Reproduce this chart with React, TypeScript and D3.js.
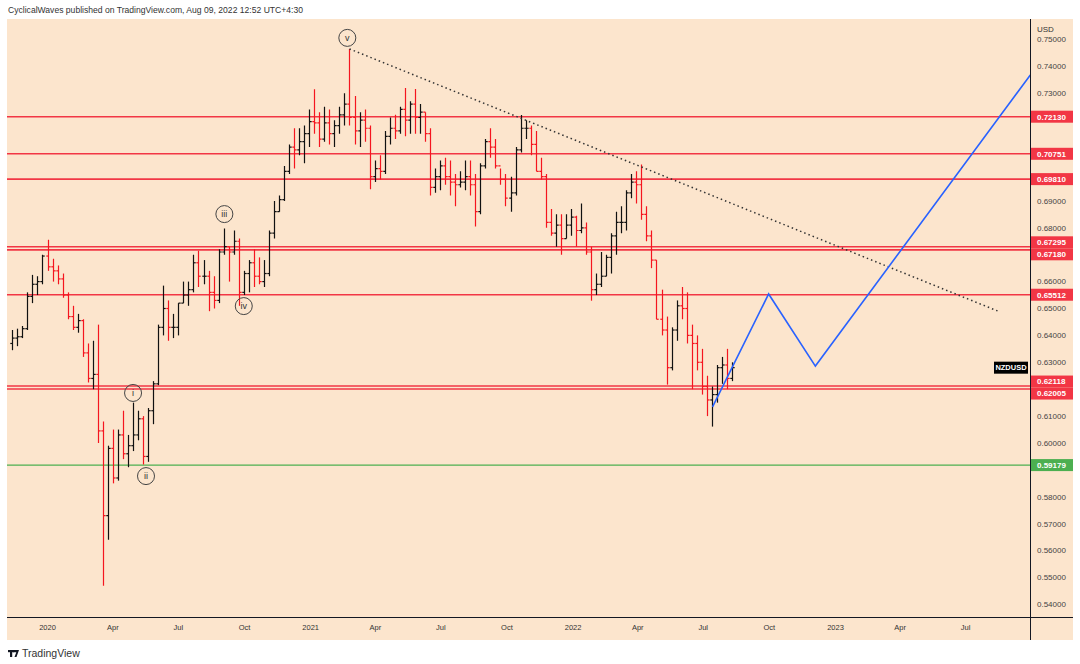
import React from 'react';
import * as d3 from 'd3';

// weekly NZDUSD bars, first week starting Mon 11 Nov 2019 (open of week n = close of week n-1)
const firstWeek = Date.UTC(2019, 10, 11);
const firstOpen = 0.6370;

const highs = [
  0.6420, 0.6425, 0.6435, 0.6560, 0.6625, 0.6620, 0.6700, 0.6756, 0.6685, 0.6660,
  0.6630, 0.6560, 0.6510, 0.6480, 0.6460, 0.6370, 0.6380, 0.6440, 0.6080, 0.5990,
  0.6050, 0.6050, 0.6120, 0.6030, 0.6150, 0.6120, 0.6100, 0.6130, 0.6230, 0.6440,
  0.6585, 0.6530, 0.6480, 0.6520, 0.6600, 0.6600, 0.6700, 0.6715, 0.6680, 0.6640,
  0.6620, 0.6720, 0.6797, 0.6730, 0.6790, 0.6760, 0.6640, 0.6680, 0.6720, 0.6690,
  0.6680, 0.6790, 0.6900, 0.6920, 0.7030, 0.7110, 0.7170, 0.7170, 0.7180, 0.7240,
  0.7315, 0.7230, 0.7250, 0.7240, 0.7200, 0.7250, 0.7300, 0.7465, 0.7290, 0.7230,
  0.7240, 0.7180, 0.7050, 0.7070, 0.7160, 0.7210, 0.7220, 0.7250, 0.7320, 0.7270,
  0.7316, 0.7260, 0.7230, 0.7170, 0.7020, 0.7050, 0.7060, 0.7050, 0.7000, 0.7010,
  0.7050, 0.7050, 0.7000, 0.7040, 0.7130, 0.7170, 0.7130, 0.7020, 0.7000, 0.6990,
  0.7100, 0.7219, 0.7200, 0.7180, 0.7160, 0.7060, 0.7000, 0.6870, 0.6850, 0.6850,
  0.6850, 0.6870, 0.6845, 0.6890, 0.6820, 0.6730, 0.6630, 0.6710, 0.6700, 0.6780,
  0.6860, 0.6880, 0.6940, 0.7000, 0.7010, 0.7035, 0.6880, 0.6790, 0.6680, 0.6570,
  0.6470, 0.6430, 0.6530, 0.6580, 0.6560, 0.6440, 0.6400, 0.6350, 0.6250, 0.6210,
  0.6290, 0.6320, 0.6350, 0.6300,
];

const lows = [
  0.6345, 0.6360, 0.6390, 0.6420, 0.6520, 0.6550, 0.6590, 0.6640, 0.6600, 0.6590,
  0.6540, 0.6460, 0.6420, 0.6410, 0.6320, 0.6225, 0.6200, 0.6000, 0.5469, 0.5640,
  0.5850, 0.5860, 0.5940, 0.5910, 0.5970, 0.6010, 0.5920, 0.5930, 0.6070, 0.6215,
  0.6400, 0.6380, 0.6390, 0.6400, 0.6520, 0.6510, 0.6560, 0.6580, 0.6590, 0.6490,
  0.6500, 0.6520, 0.6700, 0.6600, 0.6700, 0.6510, 0.6550, 0.6560, 0.6580, 0.6590,
  0.6580, 0.6620, 0.6760, 0.6860, 0.6900, 0.7000, 0.7020, 0.7070, 0.7040, 0.7100,
  0.7150, 0.7100, 0.7120, 0.7110, 0.7100, 0.7150, 0.7180, 0.7180, 0.7110, 0.7100,
  0.7120, 0.6943, 0.6970, 0.6980, 0.7000, 0.7110, 0.7130, 0.7150, 0.7140, 0.7150,
  0.7150, 0.7150, 0.7120, 0.6920, 0.6930, 0.6940, 0.6960, 0.6920, 0.6880, 0.6950,
  0.6940, 0.6920, 0.6805, 0.6850, 0.7020, 0.7060, 0.7020, 0.6960, 0.6880, 0.6860,
  0.6920, 0.7080, 0.7130, 0.7070, 0.7010, 0.6980, 0.6800, 0.6770, 0.6730, 0.6700,
  0.6760, 0.6770, 0.6730, 0.6780, 0.6700, 0.6529, 0.6550, 0.6580, 0.6620, 0.6630,
  0.6700, 0.6780, 0.6790, 0.6910, 0.6890, 0.6830, 0.6750, 0.6650, 0.6460, 0.6400,
  0.6217, 0.6270, 0.6380, 0.6460, 0.6370, 0.6200, 0.6270, 0.6180, 0.6100, 0.6061,
  0.6150, 0.6220, 0.6200, 0.6230,
];

const closes = [
  0.6390, 0.6395, 0.6425, 0.6545, 0.6590, 0.6600, 0.6695, 0.6655, 0.6640, 0.6610,
  0.6550, 0.6470, 0.6430, 0.6455, 0.6335, 0.6240, 0.6255, 0.6045, 0.5730, 0.5980,
  0.5870, 0.6030, 0.5960, 0.5990, 0.6030, 0.6090, 0.5950, 0.6120, 0.6220, 0.6430,
  0.6500, 0.6430, 0.6430, 0.6520, 0.6550, 0.6570, 0.6670, 0.6620, 0.6620, 0.6560,
  0.6530, 0.6710, 0.6730, 0.6710, 0.6750, 0.6560, 0.6630, 0.6670, 0.6620, 0.6600,
  0.6630, 0.6780, 0.6860, 0.6905, 0.7010, 0.7100, 0.7090, 0.7120, 0.7150, 0.7195,
  0.7190, 0.7130, 0.7190, 0.7150, 0.7180, 0.7220, 0.7260, 0.7210, 0.7160, 0.7200,
  0.7170, 0.6990, 0.7020, 0.7010, 0.7140, 0.7170, 0.7160, 0.7240, 0.7200, 0.7260,
  0.7210, 0.7230, 0.7150, 0.6950, 0.6990, 0.7030, 0.6990, 0.6970, 0.6960, 0.6970,
  0.6990, 0.6960, 0.6860, 0.7030, 0.7120, 0.7100, 0.7030, 0.6980, 0.6910, 0.6930,
  0.7090, 0.7170, 0.7170, 0.7110, 0.7010, 0.6990, 0.6820, 0.6780, 0.6810, 0.6760,
  0.6810, 0.6840, 0.6790, 0.6800, 0.6710, 0.6570, 0.6590, 0.6620, 0.6690, 0.6770,
  0.6820, 0.6820, 0.6930, 0.6970, 0.6960, 0.6850, 0.6770, 0.6680, 0.6460, 0.6420,
  0.6280, 0.6420, 0.6510, 0.6500, 0.6400, 0.6370, 0.6300, 0.6210, 0.6160, 0.6180,
  0.6280, 0.6290, 0.6240, 0.6280,
];

const resistanceLevels = [0.72130, 0.70751, 0.69810, 0.67295, 0.67180, 0.65512, 0.62118, 0.62005];
const supportLevels = [0.59179];

const waveNames = ['i', 'ii', 'iii', 'iv', 'v'];
const waveDates = ['2020-04-29', '2020-05-17', '2020-09-03', '2020-09-30', '2021-02-21'];
const wavePrices = [0.6186, 0.5877, 0.6851, 0.6509, 0.7506];

const trendDates = ['2021-02-24', '2023-08-18'];
const trendPrices = [0.7465, 0.6487];

const projDates = ['2022-07-14', '2022-09-30', '2022-12-04', '2023-09-29'];
const projPrices = [0.6134, 0.6554, 0.6286, 0.7368];

const symbol = 'NZDUSD';
const currency = 'USD';
const header = 'CyclicalWaves published on TradingView.com, Aug 09, 2022 12:52 UTC+4:30';

const W = 1080;
const H = 664;
const left = 7;
const top = 19;
const axisX = 1030.5;
const bottom = 617.5;
const panelRight = 1073;
const bandBottom = 640;

const BG = '#fce5cd';
const RED = '#f23645';
const GREEN = '#4caf50';
const UP = '#111111';
const DOWN = '#f5151f';
const FONT = '"Liberation Sans", Arial, sans-serif';

const App: React.FC = () => {
  const x = d3.scaleUtc()
    .domain([new Date(Date.UTC(2020, 0, 1)), new Date(Date.UTC(2023, 0, 1))])
    .range([47.5, 835.5]);
  const y = d3.scaleLinear().domain([0.54, 0.75]).range([604.4, 39.5]);
  const day = 86400000;

  const bars = closes.map((c, i) => {
    const o = i === 0 ? firstOpen : closes[i - 1];
    const xc = Math.round(x(new Date(firstWeek + (i * 7 + 2) * day))) + 0.5;
    return { x: xc, o, h: highs[i], l: lows[i], c, up: c >= o };
  });

  const fmtPrice = d3.format('.5f');
  const monthTicks = d3.utcMonth.every(3)!.range(new Date(Date.UTC(2020, 0, 1)), new Date(Date.UTC(2023, 7, 1)));
  const fmtMonth = d3.utcFormat('%b');

  // price tags on the axis, pushed apart when they overlap
  const tags = [
    ...resistanceLevels.map(v => ({ v, color: RED })),
    ...supportLevels.map(v => ({ v, color: GREEN })),
  ].map(t => ({ ...t, ty: y(t.v) })).sort((a, b) => a.ty - b.ty);
  for (let i = 1; i < tags.length; i++) {
    if (tags[i].ty - tags[i - 1].ty < 12) {
      const mid = (tags[i].ty + tags[i - 1].ty) / 2;
      tags[i - 1].ty = mid - 6;
      tags[i].ty = mid + 6;
    }
  }
  // tick labels that sit under a tag are hidden by it
  const yTicks = y.ticks(21).filter(t => tags.every(g => Math.abs(g.ty - y(t)) > 11));

  const line = d3.line<[number, number]>().x(d => d[0]).y(d => d[1]);
  const trendPts = trendDates.map((d, i) => [x(new Date(d)), y(trendPrices[i])] as [number, number]);
  const projPts = projDates.map((d, i) => [x(new Date(d)), y(projPrices[i])] as [number, number]);

  const lastY = y(closes[closes.length - 1]);

  return (
    <svg width={W} height={H} style={{ position: 'absolute', left: 0, top: 0, display: 'block', fontFamily: FONT }}>
      <rect x={0} y={0} width={W} height={H} fill="#ffffff" />
      <text x={8} y={13} fontSize={9} fill="#333" textLength={295} lengthAdjust="spacingAndGlyphs">{header}</text>
      <rect x={left} y={top} width={panelRight - left} height={bandBottom - top} fill={BG} />

      <defs>
        <clipPath id="plotClip">
          <rect x={left} y={top} width={axisX - left} height={bottom - top} />
        </clipPath>
      </defs>

      <g clipPath="url(#plotClip)">
        {resistanceLevels.map(v => (
          <line key={v} x1={left} x2={axisX} y1={y(v)} y2={y(v)} stroke={RED} strokeWidth={1.6} />
        ))}
        {supportLevels.map(v => (
          <line key={v} x1={left} x2={axisX} y1={y(v)} y2={y(v)} stroke={GREEN} strokeWidth={1.3} />
        ))}

        {bars.map((b, i) => {
          const col = b.up ? UP : DOWN;
          return (
            <g key={i} stroke={col} strokeWidth={1.2}>
              <line x1={b.x} x2={b.x} y1={y(b.h)} y2={y(b.l)} />
              <line x1={b.x - 2.2} x2={b.x} y1={y(b.o)} y2={y(b.o)} />
              <line x1={b.x} x2={b.x + 2.2} y1={y(b.c)} y2={y(b.c)} />
            </g>
          );
        })}

        <path d={line(trendPts) || ''} fill="none" stroke="#333" strokeWidth={1.5} strokeDasharray="1.5,3" />
        <path d={line(projPts) || ''} fill="none" stroke="#2962ff" strokeWidth={1.6} />

        {waveNames.map((n, i) => {
          const cx = x(new Date(waveDates[i]));
          const cy = y(wavePrices[i]);
          return (
            <g key={n}>
              <circle cx={cx} cy={cy} r={8.5} fill="none" stroke="#444" strokeWidth={1} />
              <text x={cx} y={cy} dy="0.35em" textAnchor="middle" fontSize={9} fill="#333">{n}</text>
            </g>
          );
        })}
      </g>

      {/* symbol tag */}
      <rect x={994} y={lastY - 6} width={34} height={12} fill="#000" />
      <text x={1011} y={lastY} dy="0.35em" textAnchor="middle" fontSize={7.5} fontWeight="bold" fill="#fff">{symbol}</text>

      {/* axes */}
      <line x1={axisX} x2={axisX} y1={top} y2={bandBottom} stroke="#131722" strokeWidth={1} />
      <line x1={left} x2={panelRight} y1={bottom} y2={bottom} stroke="#131722" strokeWidth={1} />

      <text x={1037} y={29} dy="0.35em" fontSize={8} fill="#333">{currency}</text>
      {yTicks.map(t => (
        <text key={t} x={1037} y={y(t)} dy="0.35em" fontSize={8} fill="#444">{fmtPrice(t)}</text>
      ))}

      {tags.map(t => (
        <g key={t.v}>
          <rect x={1031} y={t.ty - 6} width={42} height={12} fill={t.color} />
          <text x={1037} y={t.ty} dy="0.35em" fontSize={8} fontWeight="bold" fill="#fff">{fmtPrice(t.v)}</text>
        </g>
      ))}

      {monthTicks.map(d => (
        <text key={+d} x={x(d)} y={630} textAnchor="middle" fontSize={7.5} fill="#333">
          {d.getUTCMonth() === 0 ? d.getUTCFullYear() : fmtMonth(d)}
        </text>
      ))}

      {/* footer logo */}
      <g fill="#131722">
        <rect x={8} y={650} width={6} height={2.2} />
        <rect x={10} y={650} width={2.2} height={7} />
        <path d="M13.5,650 L19,650 L16.5,657 L14.5,657 L16.3,652.2 L13.5,652.2 Z" />
        <circle cx={13.4} cy={651.1} r={1.1} />
      </g>
      <text x={22} y={657} fontSize={10.5} fill="#333">TradingView</text>
    </svg>
  );
};

export default App;
